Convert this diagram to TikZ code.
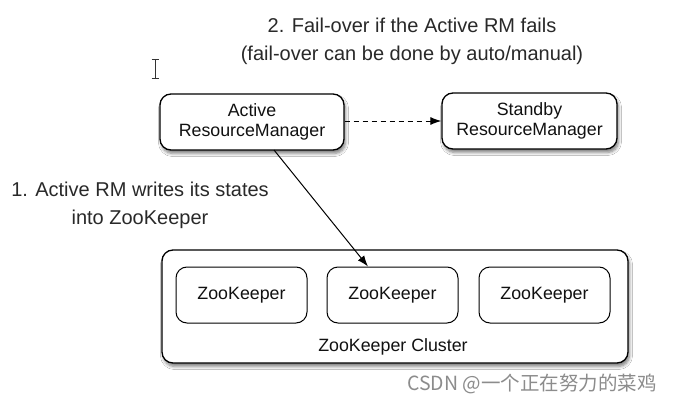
\documentclass[tikz,border=0pt]{standalone}
\usepackage{fontspec}
\setmainfont{Liberation Sans}
\newfontfamily\cjkfont{Noto Sans CJK SC}
\usetikzlibrary{arrows.meta,shadows.blur,positioning}
\definecolor{txt}{HTML}{111111}
\tikzset{
  box/.style={draw=black, line width=1.3pt, rounded corners=11pt, fill=white,
    blur shadow={shadow xshift=1.5pt, shadow yshift=-3.5pt, shadow blur steps=6, shadow blur radius=3pt, shadow opacity=50},
    align=center, text=txt, font=\fontsize{17.8}{20.5}\selectfont, inner sep=0pt},
  zk/.style={draw=black, line width=1pt, rounded corners=11pt, fill=white, text=txt,
    font=\fontsize{17.8}{20.5}\selectfont, minimum width=131pt, minimum height=56pt, inner sep=0pt},
  lbl/.style={text=txt!90, align=center, font=\fontsize{20}{28}\selectfont, inner sep=0pt},
  arr/.style={-{Latex[length=11pt,width=8pt]}, line width=1pt, draw=black}
}
\begin{document}
\begin{tikzpicture}[x=1pt,y=-1pt]
\useasboundingbox (0,0) rectangle (673,407);
\fill[white] (0,0) rectangle (673,407);

% labels
\node[lbl] (lab2) at (412,41) {2. Fail-over if the Active RM fails\\(fail-over can be done by auto/manual)};
\node[lbl] (lab1) at (140,205) {1. Active RM writes its states\\into ZooKeeper};

% cursor I-beam
\draw[line width=0.9pt, draw=black!80] (151.5,59) -- (158.5,59) (155,59) -- (155,78) (151.5,78) -- (158.5,78);

% resource managers
\node[box, minimum width=184pt, minimum height=56pt] (active) at (252,122) {Active\\ResourceManager};
\node[box, minimum width=175pt, minimum height=56pt] (standby) at (529.5,121) {Standby\\ResourceManager};

% cluster
\node[box, minimum width=466pt, minimum height=113pt] (cluster) at (395,306.5) {};
\node[zk] (zk1) at (241.5,295) {ZooKeeper};
\node[zk] (zk2) at (392.5,295) {ZooKeeper};
\node[zk] (zk3) at (544.5,295) {ZooKeeper};
\node[text=txt, font=\fontsize{17.8}{20.5}\selectfont, inner sep=0pt] (clab) at (393,347) {ZooKeeper Cluster};

% connectors
\draw[arr, dash pattern=on 5pt off 4pt] (active.east |- 0,121) -- (standby.west |- 0,121);
\coordinate (astart) at (274,150);
\draw[arr] (astart) -- (zk2.north -| 368,0);

% watermark
\node[anchor=east, text=black!45, font=\cjkfont\fontsize{19.5}{21}\selectfont, inner sep=0pt] (wm) at (657,384) {CSDN @一个正在努力的菜鸡};
\end{tikzpicture}
\end{document}
